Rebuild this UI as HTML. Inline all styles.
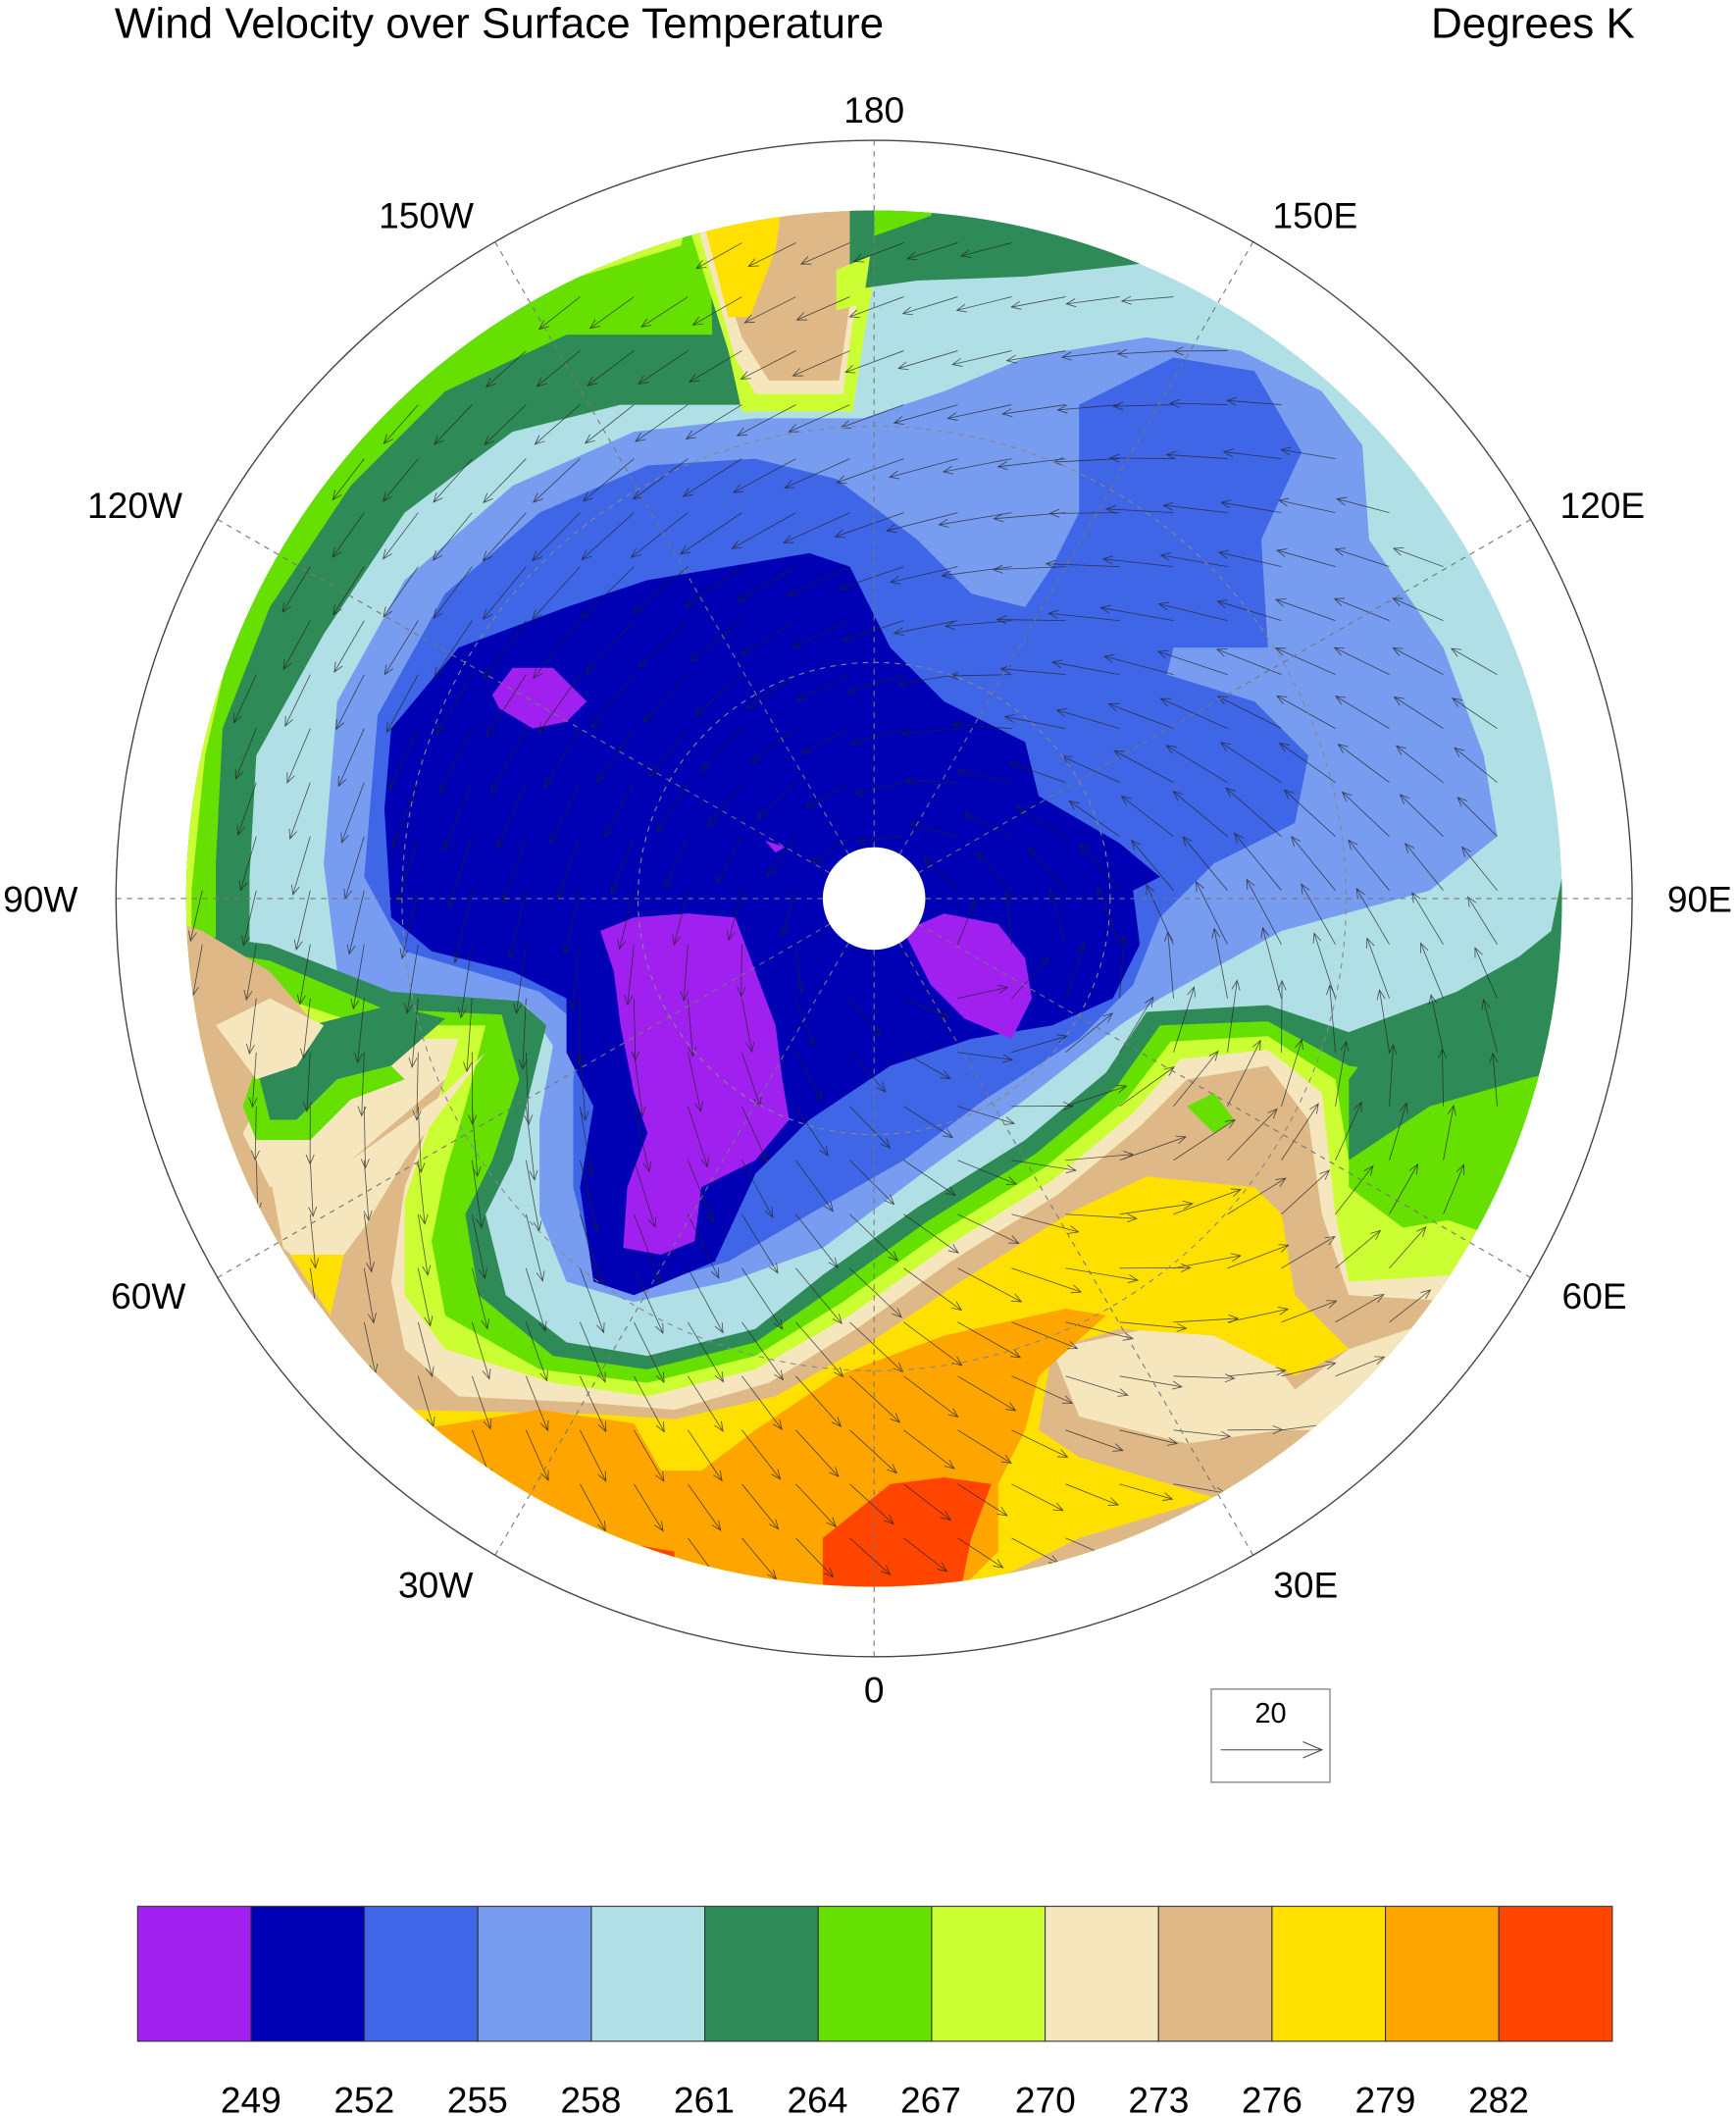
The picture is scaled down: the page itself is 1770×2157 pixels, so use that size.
<!DOCTYPE html>
<html><head><meta charset="utf-8"><style>
html,body{margin:0;padding:0;background:#fff;}
svg{display:block;}
text{font-family:"Liberation Sans",sans-serif;fill:#000;}
</style></head><body>
<svg id="s" width="1770" height="2157" viewBox="0 0 1287 1568.4" xmlns="http://www.w3.org/2000/svg">
<defs><clipPath id="c"><circle cx="648" cy="666" r="510"/></clipPath></defs>
<text x="85" y="28" font-size="32">Wind Velocity over Surface Temperature</text>
<text x="1212" y="28" font-size="32" text-anchor="end">Degrees K</text>
<g clip-path="url(#c)">
<circle cx="648" cy="666" r="510" fill="#b0e0e6"/>
<!-- top-left rim -->
<polygon fill="#2e8b57" points="100,700 100,100 620,100 600,300 560,300 460,300 380,320 300,380 240,470 190,560 185,650 185,700"/>
<polygon fill="#66e000" points="100,700 100,100 525,100 528,248 420,248 330,290 260,360 200,450 165,540 160,640 160,700"/>
<polygon fill="#ccff33" points="100,700 100,100 520,100 505,182 420,208 340,252 270,312 210,392 172,472 152,560 142,660 142,700"/>
<!-- top tongue -->
<polygon fill="#ccff33" points="505,150 540,260 550,305 632,305 642,240 658,150"/>
<polygon fill="#f5e6be" points="512,150 545,265 560,292 625,292 632,240 642,200 652,150"/>
<polygon fill="#deb887" points="518,150 550,250 570,282 622,282 628,240 640,150"/>
<polygon fill="#ffe000" points="518,150 540,235 556,235 575,185 580,150"/>
<polygon fill="#2e8b57" points="630,215 680,208 760,205 850,195 850,140 630,140"/>
<polygon fill="#66e000" points="648,175 690,160 700,140 648,140"/>
<polygon fill="#ccff33" points="620,200 645,190 640,225 620,230"/>
<!-- blues -->
<polygon fill="#779cf0" points="240,640 250,520 300,430 380,360 470,320 560,310 640,310 700,290 760,265 850,250 920,260 980,290 1010,330 1015,400 1070,480 1100,560 1110,620 1060,660 950,690 860,740 830,760 760,815 690,865 610,925 540,950 470,965 420,950 400,900 400,830 410,775 390,745 290,740 250,720"/>
<polygon fill="#3e66e6" points="270,650 280,530 330,440 400,380 480,345 560,340 620,355 680,400 720,440 760,450 780,420 800,380 800,300 870,265 930,275 965,335 935,400 940,480 870,480 865,500 930,520 970,560 960,610 900,640 860,680 840,730 800,770 730,815 670,860 600,900 540,935 470,955 440,940 425,880 425,800 430,760 400,735 300,705"/>
<polygon fill="#0000b4" points="285,600 290,540 340,480 420,450 480,430 540,420 600,410 630,420 660,480 700,520 760,550 770,590 830,625 860,650 840,660 845,700 825,740 780,760 720,770 660,790 600,830 560,870 530,935 470,960 440,950 430,880 440,820 420,780 420,740 380,720 320,705 290,680"/>
<polygon fill="#a020f0" points="365,515 380,495 410,495 435,520 420,535 395,540 370,525"/>
<polygon fill="#a020f0" points="445,690 470,680 510,677 545,680 560,720 575,760 580,800 585,830 560,860 520,880 515,920 490,930 462,925 465,880 480,840 470,810 460,760 455,720"/>
<polygon fill="#a020f0" points="670,690 700,677 740,685 760,710 765,740 750,770 715,755 690,730"/>
<polygon fill="#a020f0" points="567,623 582,628 575,632"/>
<!-- warm bottom -->
<polygon fill="#2e8b57" points="120,690 200,700 290,735 385,742 405,760 395,800 380,860 360,900 375,960 420,995 480,1005 560,985 610,945 680,895 760,845 820,795 850,750 940,745 1000,765 1080,735 1160,690 1170,1300 120,1300"/>
<polygon fill="#66e000" points="120,700 200,712 285,748 372,752 385,800 365,860 345,900 355,960 410,1005 480,1015 560,995 618,955 688,905 768,855 828,805 860,760 940,757 1000,790 1080,800 1160,780 1170,1300 120,1300"/>
<polygon fill="#ccff33" points="120,710 270,760 360,760 345,820 330,870 320,920 330,975 400,1015 480,1025 560,1005 625,965 695,915 775,865 835,815 868,772 940,768 990,800 1000,860 1060,900 1120,920 1160,900 1170,1300 120,1300"/>
<polygon fill="#f5e6be" points="120,715 260,770 340,770 320,830 300,890 300,960 330,1000 410,1025 480,1035 560,1015 630,975 700,925 780,875 840,825 875,785 940,778 980,810 990,900 1000,950 1160,940 1170,1300 120,1300"/>
<polygon fill="#deb887" points="120,680 150,690 200,720 260,790 200,800 180,840 200,880 260,860 330,800 300,880 290,950 300,1000 340,1035 440,1040 500,1045 570,1025 635,985 705,935 785,885 845,835 880,800 940,790 970,830 980,900 1000,960 1170,970 1170,1300 120,1300"/>
<polygon fill="#2e8b57" points="190,790 230,760 290,745 330,755 290,790 250,800 220,830 200,830"/>
<polygon fill="#66e000" points="180,820 190,790 200,830 220,830 250,800 290,790 300,800 260,815 230,845 190,845"/>
<polygon fill="#f5e6be" points="160,760 200,740 240,760 220,790 190,800"/>
<polygon fill="#f5e6be" points="200,870 260,860 330,810 360,780 300,860 270,910 240,950 210,925"/>
<polygon fill="#ffe000" points="215,930 255,930 245,975"/>
<polygon fill="#f5e6be" points="780,1000 850,985 930,990 960,1030 1000,1000 1060,980 1120,960 1170,950 1170,1100 1000,1060 950,1060 880,1070 800,1050"/>
<polygon fill="#ffe000" points="300,1045 440,1048 500,1052 575,1035 645,995 715,948 795,898 850,872 930,880 950,900 960,960 1000,1000 960,1020 900,990 830,985 780,1000 770,1060 800,1080 900,1110 800,1140 700,1190 500,1190 300,1060"/>
<polygon fill="#ffa500" points="320,1058 400,1045 470,1055 490,1090 520,1090 560,1060 620,1020 700,990 790,970 820,975 770,1020 760,1060 740,1100 740,1150 700,1190 500,1190 420,1130"/>
<polygon fill="#ff4500" points="610,1140 660,1100 700,1095 735,1100 720,1140 710,1190 610,1190"/>
<polygon fill="#ff4500" points="430,1138 500,1150 500,1180 430,1180"/>
<!-- right rim -->
<polygon fill="#2e8b57" points="1170,590 1150,690 1100,730 1030,760 1000,800 1000,860 1060,820 1130,800 1170,790"/>
<polygon fill="#66e000" points="1000,860 1060,820 1140,800 1170,790 1170,880 1100,900 1040,910 1000,880"/>
<polygon fill="#66e000" points="880,820 900,810 915,830 900,840"/>
<g id="vec" stroke="#222" stroke-width="0.6" fill="none" opacity="0.75"></g>
</g>
<circle cx="648" cy="666" r="38" fill="#fff"/>
<g stroke="#888" stroke-width="0.8" stroke-dasharray="4,4" fill="none">
<circle cx="648" cy="666" r="175"/><circle cx="648" cy="666" r="350"/>
</g>
<g id="rad" stroke="#777" stroke-width="0.8" stroke-dasharray="4,4"></g>
<circle cx="648" cy="666" r="562" fill="none" stroke="#444" stroke-width="1"/>
<g font-size="27" text-anchor="middle">
<text x="648" y="91">180</text><text x="975" y="169">150E</text><text x="1188" y="384">120E</text>
<text x="1260" y="676">90E</text><text x="1182" y="970">60E</text><text x="968" y="1184">30E</text>
<text x="648" y="1262">0</text><text x="323" y="1184">30W</text><text x="110" y="970">60W</text>
<text x="30" y="676">90W</text><text x="100" y="384">120W</text><text x="316" y="169">150W</text>
</g>
<rect x="898" y="1252" width="88" height="69" fill="#fff" stroke="#888" stroke-width="1"/>
<text x="942" y="1277" font-size="21" text-anchor="middle">20</text>
<line x1="905" y1="1297" x2="980" y2="1297" stroke="#444" stroke-width="0.8"/>
<polyline points="966,1291 980,1297 966,1303" fill="none" stroke="#444" stroke-width="0.8"/>
<g stroke="#333" stroke-width="0.8">
<rect x="102" y="1413" width="84.1" height="100" fill="#a020f0"/>
<rect x="186.1" y="1413" width="84.1" height="100" fill="#0000b4"/>
<rect x="270.2" y="1413" width="84.1" height="100" fill="#3e66e6"/>
<rect x="354.3" y="1413" width="84.1" height="100" fill="#779cf0"/>
<rect x="438.4" y="1413" width="84.1" height="100" fill="#b0e0e6"/>
<rect x="522.5" y="1413" width="84.1" height="100" fill="#2e8b57"/>
<rect x="606.6" y="1413" width="84.1" height="100" fill="#66e000"/>
<rect x="690.7" y="1413" width="84.1" height="100" fill="#ccff33"/>
<rect x="774.8" y="1413" width="84.1" height="100" fill="#f5e6be"/>
<rect x="858.9" y="1413" width="84.1" height="100" fill="#deb887"/>
<rect x="943" y="1413" width="84.1" height="100" fill="#ffe000"/>
<rect x="1027.1" y="1413" width="84.1" height="100" fill="#ffa500"/>
<rect x="1111.2" y="1413" width="84.1" height="100" fill="#ff4500"/>
</g>
<g font-size="27" text-anchor="middle">
<text x="186" y="1566">249</text><text x="270" y="1566">252</text><text x="354" y="1566">255</text>
<text x="438" y="1566">258</text><text x="522" y="1566">261</text><text x="606" y="1566">264</text>
<text x="690" y="1566">267</text><text x="775" y="1566">270</text><text x="859" y="1566">273</text>
<text x="943" y="1566">276</text><text x="1027" y="1566">279</text><text x="1111" y="1566">282</text>
</g>
</svg>
<script>
var NS="http://www.w3.org/2000/svg",cx=648,cy=666;
var rad=document.getElementById("rad");
for(var a=0;a<360;a+=30){var t=a*Math.PI/180;var l=document.createElementNS(NS,"line");
l.setAttribute("x1",cx+38*Math.cos(t));l.setAttribute("y1",cy+38*Math.sin(t));
l.setAttribute("x2",cx+562*Math.cos(t));l.setAttribute("y2",cy+562*Math.sin(t));rad.appendChild(l);}
var g=document.getElementById("vec");
for(var y=180;y<1170;y+=40){for(var x=150;x<1150;x+=40){
var dx=x-cx,dy=y-cy,r=Math.sqrt(dx*dx+dy*dy);if(r>500||r<45)continue;
var u=dy/r*1.0-0.35,v=-dx/r*1.0+0.55;var m=Math.sqrt(u*u+v*v);u/=m;v/=m;
var L=30+25*(1-Math.abs(r-300)/300);
var x2=x+u*L,y2=y+v*L;
var p=document.createElementNS(NS,"path");
var hx=-u*7,hy=-v*7,px=-v*3,py=u*3;
p.setAttribute("d","M"+x+" "+y+"L"+x2+" "+y2+"M"+(x2+hx+px)+" "+(y2+hy+py)+"L"+x2+" "+y2+"L"+(x2+hx-px)+" "+(y2+hy-py));
g.appendChild(p);}}
</script>
</body></html>
